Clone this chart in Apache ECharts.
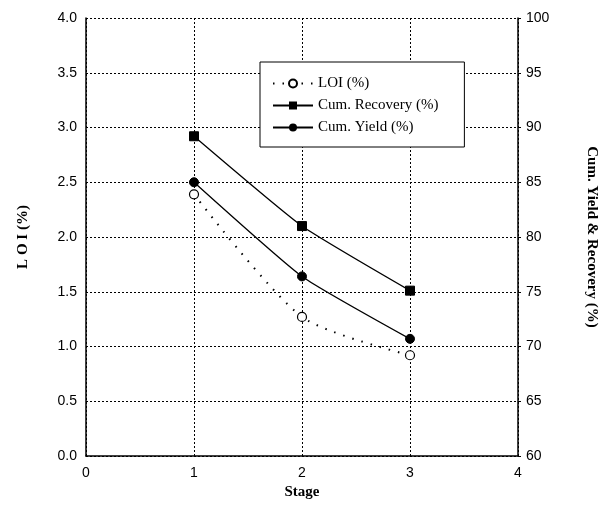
<!DOCTYPE html>
<html>
<head>
<meta charset="utf-8">
<script src="https://cdn.jsdelivr.net/npm/echarts@6/dist/echarts.min.js"></script>
<style>
html,body{margin:0;padding:0;background:#fff;}
#chart{width:607px;height:518px;}
</style>
</head>
<body>
<div id="chart"></div>
<script>
const stages = [1, 2, 3];
const loi = [2.39, 1.27, 0.92];
const cumRecovery = [89.2, 81.0, 75.1];
const cumYield = [85.0, 76.4, 70.7];
const leftTicks = ['0.0','0.5','1.0','1.5','2.0','2.5','3.0','3.5','4.0'];
const rightTicks = ['60','65','70','75','80','85','90','95','100'];

const pairs = (vals) => stages.map((s, i) => [s, vals[i]]);
const serif = 'Liberation Serif, Times New Roman, serif';
const sans = 'Liberation Sans, Arial, sans-serif';

const chart = echarts.init(document.getElementById('chart'), null, {renderer: 'canvas'});
chart.setOption({
  animation: false,
  backgroundColor: '#fff',
  grid: {left: 86, right: 83, top: 18, bottom: 62, containLabel: false},
  legend: {
    orient: 'vertical',
    left: 260, top: 62,
    backgroundColor: '#fff',
    borderColor: '#000', borderWidth: 1,
    padding: [14, 26, 12, 12],
    itemWidth: 40, itemHeight: 10, itemGap: 7,
    textStyle: {fontFamily: serif, fontSize: 15, color: '#000'},
    data: ['LOI (%)', 'Cum. Recovery (%)', 'Cum. Yield (%)']
  },
  xAxis: {
    type: 'value', min: 0, max: 4, interval: 1,
    name: 'Stage', nameLocation: 'middle', nameGap: 29,
    nameTextStyle: {fontFamily: serif, fontSize: 15, fontWeight: 'bold', color: '#000'},
    axisLine: {show: true, lineStyle: {color: '#000', width: 1.5}},
    axisTick: {show: false},
    axisLabel: {fontFamily: sans, fontSize: 14, color: '#000', margin: 10},
    splitLine: {show: true, lineStyle: {color: '#000', type: [2, 2], width: 1}}
  },
  yAxis: [{
    type: 'value', min: 0, max: 4, interval: 0.5,
    name: 'L O I (%)', nameLocation: 'middle', nameGap: 55, nameRotate: 90,
    nameTextStyle: {fontFamily: serif, fontSize: 15, fontWeight: 'bold', color: '#000'},
    axisLine: {show: true, lineStyle: {color: '#000', width: 1.5}},
    axisTick: {show: false},
    axisLabel: {fontFamily: sans, fontSize: 14, color: '#000', margin: 9,
      formatter: (v) => leftTicks[Math.round(v / 0.5)]},
    splitLine: {show: true, lineStyle: {color: '#000', type: [2, 2], width: 1}}
  }, {
    type: 'value', min: 60, max: 100, interval: 5,
    position: 'right',
    name: 'Cum. Yield & Recovery (%)', nameLocation: 'middle', nameGap: 66, nameRotate: -90,
    nameTextStyle: {fontFamily: serif, fontSize: 15, fontWeight: 'bold', color: '#000'},
    axisLine: {show: true, lineStyle: {color: '#000', width: 1.5}},
    axisTick: {show: true, inside: false, length: 3, lineStyle: {color: '#000'}},
    axisLabel: {fontFamily: sans, fontSize: 14, color: '#000', margin: 8,
      formatter: (v) => rightTicks[Math.round((v - 60) / 5)]},
    splitLine: {show: false}
  }],
  series: [{
    name: 'LOI (%)', type: 'line', yAxisIndex: 0,
    data: pairs(loi), smooth: 0.25,
    symbol: 'circle', symbolSize: 9,
    itemStyle: {color: '#fff', borderColor: '#000', borderWidth: 1.2},
    lineStyle: {color: '#000', width: 2, type: [1.5, 8]},
    z: 3
  }, {
    name: 'Cum. Recovery (%)', type: 'line', yAxisIndex: 1,
    data: pairs(cumRecovery), smooth: 0.15,
    symbol: 'rect', symbolSize: 9,
    itemStyle: {color: '#000', borderColor: '#000'},
    lineStyle: {color: '#000', width: 1.3},
    z: 3
  }, {
    name: 'Cum. Yield (%)', type: 'line', yAxisIndex: 1,
    data: pairs(cumYield), smooth: 0.15,
    symbol: 'circle', symbolSize: 9,
    itemStyle: {color: '#000', borderColor: '#000'},
    lineStyle: {color: '#000', width: 1.3},
    z: 3
  }]
});
</script>
</body>
</html>
